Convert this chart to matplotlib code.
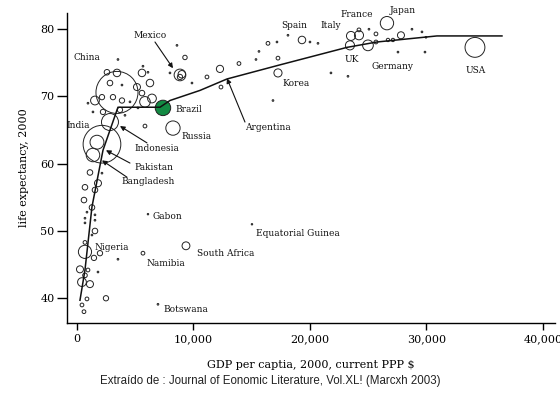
import matplotlib
matplotlib.use("Agg")
import matplotlib.pyplot as plt
import numpy as np
from matplotlib.ticker import FuncFormatter

# ---- Data ----
# named countries: GDP per capita (PPP $), life expectancy, population (millions)
named = ["China", "India", "Indonesia", "Pakistan", "Bangladesh", "Brazil", "Russia",
         "Mexico", "Argentina", "Korea", "Spain", "Italy", "France", "UK", "Germany",
         "Japan", "USA", "Nigeria", "South Africa", "Namibia", "Gabon",
         "Equatorial Guinea", "Botswana"]
named_gdp = [3434, 2146, 2833, 1717, 1373, 7382, 8241, 8842, 12275, 17254, 19314,
             23520, 24207, 23434, 24979, 26610, 34164, 687, 9357, 5665, 6095, 15022, 6953]
named_le = [70.6, 62.9, 66.2, 63.2, 61.3, 68.3, 65.3, 73.2, 74.1, 73.5, 78.4,
            79.0, 79.1, 77.6, 77.6, 80.9, 77.3, 46.9, 47.8, 46.7, 52.5, 51.0, 39.1]
named_pop = [1262, 1016, 206, 138, 131, 170, 146, 98, 37, 47, 40,
             58, 59, 59, 82, 127, 282, 124, 44, 10, 1.5, 1.5, 2]

# other countries
other_gdp = [8584, 9271, 3519, 2575, 3434, 5665, 5580, 6095, 7983, 8842, 9872, 2833,
             3863, 6266, 5150, 5580, 1545, 2146, 3090, 3863, 4550, 5837, 6438, 5236,
             3691, 2232, 5837, 1373, 4120, 944, 1116, 2146, 687, 1545, 1803, 601,
             1288, 858, 1545, 687, 1545, 687, 1545, 1288, 687, 1974, 1459, 3519,
             258, 944, 1803, 687, 429, 1116, 858, 2489, 429, 601, 16396, 17168,
             18112, 15623, 15366, 13906, 17254, 11159, 12361, 16825, 20001, 20688,
             21803, 23263, 25065, 25666, 24207, 25666, 26696, 27125, 27812, 28756,
             29615, 29958, 27555, 29873, 9000]
other_le = [77.6, 75.8, 75.5, 73.6, 73.5, 74.5, 73.5, 73.6, 73.5, 72.9, 72.0, 72.0,
            71.7, 72.0, 71.4, 70.5, 69.4, 69.9, 69.9, 69.4, 69.2, 69.2, 69.7, 68.3,
            68.0, 67.7, 65.6, 67.7, 67.2, 69.0, 58.7, 58.6, 56.5, 56.1, 57.1, 54.6,
            53.5, 52.8, 52.4, 51.9, 51.6, 51.2, 50.0, 49.4, 48.3, 46.7, 46.0, 45.8,
            44.3, 44.2, 43.9, 43.4, 42.4, 42.1, 39.9, 40.0, 39.0, 38.0, 77.9, 78.1,
            79.1, 76.7, 75.5, 74.9, 75.7, 72.9, 71.4, 69.4, 78.1, 77.9,
            73.5, 73.0, 80.0, 79.3, 79.9, 78.1, 78.4, 78.4, 79.1, 80.0,
            79.6, 78.8, 76.6, 76.6, 73.3]
other_pop = [2, 14, 2, 22, 40, 2, 40, 2, 2, 20, 2, 22,
             2, 40, 35, 22, 55, 20, 20, 20, 2, 80, 55, 2,
             20, 20, 10, 2, 2, 2, 22, 2, 22, 22, 35, 22,
             22, 2, 2, 2, 2, 2, 22, 2, 10, 20, 20, 2,
             35, 10, 2, 15, 55, 35, 10, 20, 10, 10, 10, 2,
             2, 2, 2, 10, 10, 10, 10, 2, 2, 2,
             2, 2, 2, 10, 10, 10, 8, 8, 35, 2,
             2, 2, 2, 2, 40]

# fitted curve
fit_gdp = [258, 687, 1288, 2232, 3519, 7124, 7983, 10558, 12876, 17425, 23176,
           25751, 30901, 36481]
fit_le = [39.7, 44.2, 53.6, 62.0, 68.4, 68.4, 69.4, 70.9, 72.6, 74.7, 77.3,
          78.1, 79.0, 79.0]

# labels: (text, x, y, ha)
labels = [("China", 858, 75.8, "center"), ("Mexico", 6266, 79.1, "center"),
          ("India", 129, 65.7, "center"), ("Indonesia", 6867, 62.3, "center"),
          ("Pakistan", 6610, 59.5, "center"), ("Bangladesh", 6095, 57.3, "center"),
          ("Brazil", 8412, 68.1, "left"), ("Russia", 8927, 64.0, "left"),
          ("Argentina", 16396, 65.4, "center"), ("Korea", 17597, 72.0, "left"),
          ("Spain", 18627, 80.6, "center"), ("Italy", 21803, 80.6, "center"),
          ("France", 24035, 82.2, "center"), ("UK", 23606, 75.5, "center"),
          ("Germany", 27125, 74.4, "center"), ("Japan", 27984, 82.8, "center"),
          ("USA", 34250, 73.8, "center"), ("Gabon", 6524, 52.1, "left"),
          ("Equatorial Guinea", 15366, 49.7, "left"), ("Nigeria", 1545, 47.6, "left"),
          ("Namibia", 6009, 45.2, "left"), ("South Africa", 10301, 46.6, "left"),
          ("Botswana", 7382, 38.4, "left")]

# arrows: (tail x, tail y, head x, head y)
arrows = [(6696, 78.1, 8241, 74.2), (6009, 63.1, 3691, 65.6),
          (4550, 60.1, 2489, 62.0), (4292, 58.0, 2146, 60.5),
          (14421, 66.2, 12876, 72.7)]

# ---- Plot ----
plt.rcParams['font.family'] = ['DejaVu Serif']
fig = plt.figure(figsize=(5.6, 3.96), dpi=100)
ax = fig.add_axes([0.1196, 0.184, 0.8714, 0.783])

scale = 0.725
ax.scatter(other_gdp, other_le, s=np.array(other_pop) * scale, facecolors='none',
           edgecolors='#222222', linewidths=0.7, zorder=2)
face = ['#138a43' if n == "Brazil" else 'none' for n in named]
ax.scatter(named_gdp, named_le, s=np.array(named_pop) * scale, facecolors=face,
           edgecolors='#222222', linewidths=0.7, zorder=3)
ax.plot(fit_gdp, fit_le, color='#111111', lw=1.1, zorder=4)

for t, x, y, ha in labels:
    ax.text(x, y, t, fontsize=6.5, ha=ha, va='center', color='#111111', zorder=5)
for x0, y0, x1, y1 in arrows:
    ax.annotate("", xy=(x1, y1), xytext=(x0, y0),
                arrowprops=dict(arrowstyle='-|>', lw=0.8, color='#111111',
                                mutation_scale=7, shrinkA=0, shrinkB=0), zorder=5)

ax.set_xlim(-858, 41031)
ax.set_ylim(36.3, 82.4)
ax.set_xticks([0, 10000, 20000, 30000, 40000])
ax.set_yticks([40, 50, 60, 70, 80])
ax.xaxis.set_major_formatter(FuncFormatter(lambda v, p: f"{int(v):,}"))
for s in ['top', 'right']:
    ax.spines[s].set_visible(False)
for s in ['left', 'bottom']:
    ax.spines[s].set_linewidth(1.0)
ax.tick_params(axis='y', length=7, width=1.0, labelsize=8, pad=2)
ax.tick_params(axis='x', length=5, width=1.0, labelsize=8, pad=3)
ax.set_xlabel("GDP per captia, 2000, current PPP \\$", fontsize=8, labelpad=11)
ax.set_ylabel("life expectancy, 2000", fontsize=8, labelpad=8)

fig.text(0.482, 0.038, "Extraído de : Journal of Eonomic Literature, Vol.XL! (Marcxh 2003)",
         fontsize=8.3, family='Liberation Sans', ha='center', va='center', color='#222222')

fig.savefig("out.png", dpi=100)
